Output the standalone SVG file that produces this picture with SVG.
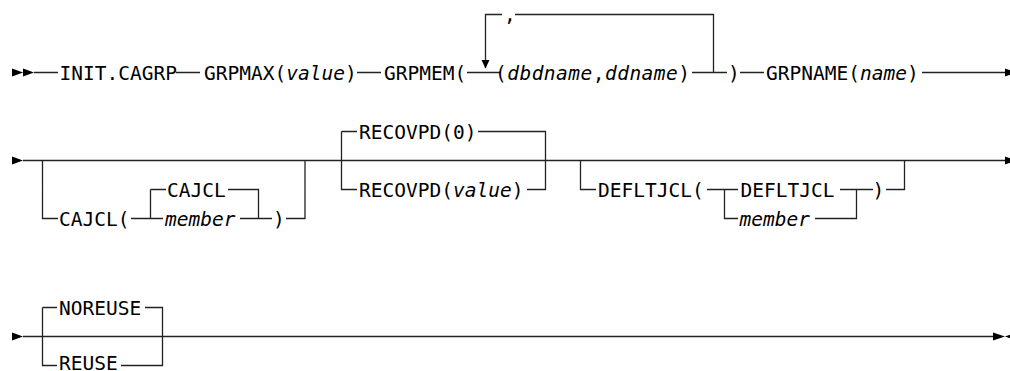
<svg xmlns="http://www.w3.org/2000/svg" width="1010" height="371" viewBox="0 0 1010 371">
<style>
text{font-family:"DejaVu Sans Mono","Liberation Mono",monospace;font-size:19.5px;fill:#000}
.v{font-style:italic}
.c{fill:none;stroke:#222;stroke-width:1.3}
.a{fill:#000;stroke:none}
</style>
<rect width="1010" height="371" fill="#fff"/>
<g id="connectors">
<path class="c" d="M34 72.5H58M176 72.5H200M357 72.5H381M467 72.5H500M485.5 68V14.5H502M515 14.5H713.5V72.5M692 72.5H727M740 72.5H764M922 72.5H1006"/>
<path class="a" d="M12 68.5L23 72.5L12 76.5ZM23 68.5L34 72.5L23 76.5ZM481.5 60H489.5L485.5 68.5ZM1005 68.5L1016 72.5L1005 76.5Z"/>
<path class="c" d="M23 160.5H1006M42.5 160.5V218.5H58M131 218.5H150.5M150.5 189.5V218.5H163M150.5 189.5H166M228 189.5H258.5V218.5H240M258.5 218.5H272M286 218.5H305V160.5"/>
<path class="c" d="M341.5 131.5V189.5H357M341.5 131.5H357M478 131.5H545.5V189.5H527"/>
<path class="c" d="M580.5 160.5V189.5H596M707 189.5H724.5V218.5H738M724.5 189.5H738M840 189.5H856.5V218.5H815M856.5 189.5H873M886 189.5H904.5V160.5"/>
<path class="a" d="M12 156.5L23 160.5L12 164.5ZM1005 156.5L1016 160.5L1005 164.5Z"/>
<path class="c" d="M23 336.5H994M42.5 307.5V365.5H57M42.5 307.5H57M145 307.5H162.5V365.5H121"/>
<path class="a" d="M12 332.5L23 336.5L12 340.5ZM993 332.5L1005 336.5L993 340.5ZM1016 332.5L1005 336.5L1016 340.5Z"/>
</g>
<g id="init"><text x="59.5" y="79.5">INIT.CAGRP</text></g>
<g id="grpmax"><text x="204" y="79.5">GRPMAX(<tspan class="v">value</tspan>)</text></g>
<g id="grpmem"><text x="384" y="79.5">GRPMEM(</text></g>
<g id="grpmem-loop"><text x="504" y="21">,</text></g>
<g id="member-pair"><text x="495" y="79.5" textLength="195" lengthAdjust="spacing">(<tspan class="v">dbdname</tspan>,<tspan class="v">ddname</tspan>)</text></g>
<g id="grpmem-close"><text x="728" y="79.5">)</text></g>
<g id="grpname"><text x="766" y="79.5">GRPNAME(<tspan class="v">name</tspan>)</text></g>
<g id="cajcl"><text x="59" y="225.5">CAJCL(</text><text x="167" y="196.5">CAJCL</text><text class="v" x="165" y="225.5">member</text><text x="273" y="225.5">)</text></g>
<g id="recovpd"><text x="359" y="138.5">RECOVPD(0)</text><text x="359" y="196.5">RECOVPD(<tspan class="v">value</tspan>)</text></g>
<g id="defltjcl"><text x="598" y="196.5">DEFLTJCL(</text><text x="740.5" y="196.5">DEFLTJCL</text><text class="v" x="739.5" y="225.5">member</text><text x="872.5" y="196.5">)</text></g>
<g id="reuse"><text x="59" y="314.5">NOREUSE</text><text x="59" y="370">REUSE</text></g>
</svg>
